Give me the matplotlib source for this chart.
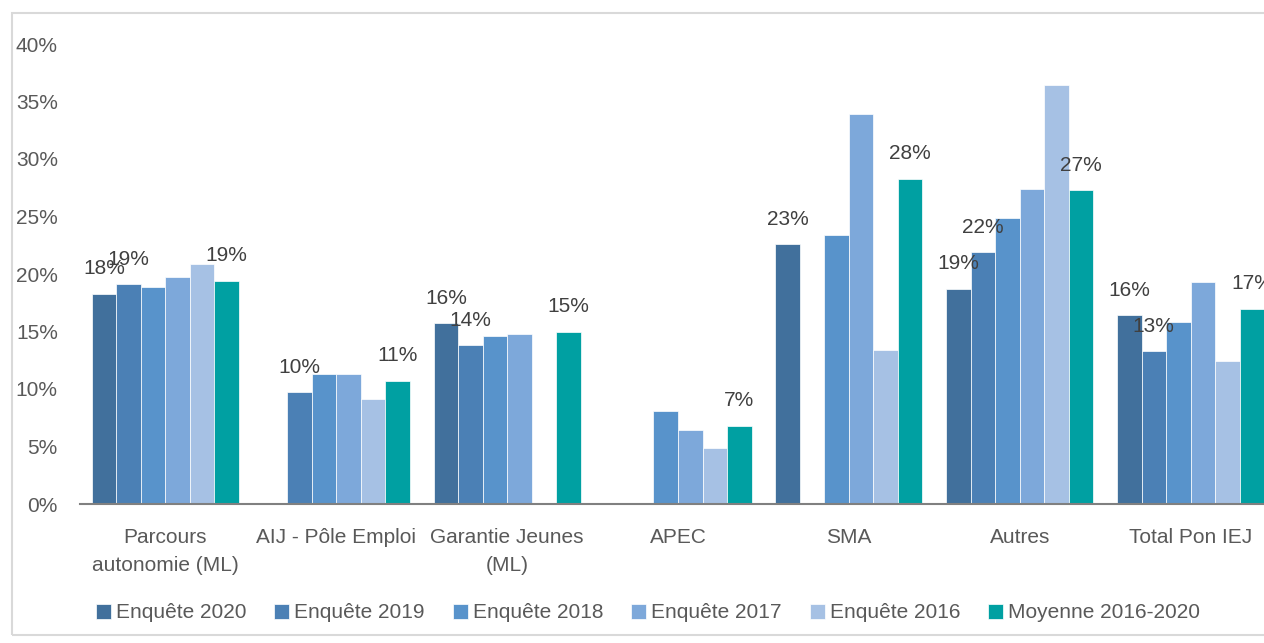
import numpy as np
import matplotlib
matplotlib.use('Agg')
import matplotlib.pyplot as plt
from matplotlib.patches import Rectangle

plt.rcParams['font.family'] = ['Liberation Sans', 'DejaVu Sans']

# Categories and survey values (%)
categories = ['Parcours\nautonomie (ML)', 'AIJ - Pôle Emploi', 'Garantie Jeunes\n(ML)',
              'APEC', 'SMA', 'Autres', 'Total Pon IEJ']
series_names = ['Enquête 2020', 'Enquête 2019', 'Enquête 2018', 'Enquête 2017',
                'Enquête 2016', 'Moyenne 2016-2020']
enquete_2020 = [18.3, np.nan, 15.7, np.nan, 22.6, 18.7, 16.4]
enquete_2019 = [19.1, 9.7, 13.8, np.nan, np.nan, 21.9, 13.3]
enquete_2018 = [18.9, 11.3, 14.6, 8.1, 23.4, 24.9, 15.8]
enquete_2017 = [19.7, 11.3, 14.8, 6.4, 33.9, 27.4, 19.3]
enquete_2016 = [20.9, 9.1, np.nan, 4.9, 13.4, 36.4, 12.4]
moyenne = [19.4, 10.7, 15.0, 6.8, 28.3, 27.3, 17.0]
yticks = [0, 5, 10, 15, 20, 25, 30, 35, 40]

all_series = [enquete_2020, enquete_2019, enquete_2018, enquete_2017, enquete_2016, moyenne]
colors = ['#41709C', '#4B80B5', '#5893CB', '#7DA8DA', '#A6C1E4', '#00A0A2']
labelled = [0, 1, 5]  # series with data labels

fig = plt.figure(figsize=(12.64, 6.43), dpi=100)
ax = fig.add_axes([80 / 1264, 139 / 643, 1196 / 1264, 460 / 643])

x = np.arange(len(categories))
w = 0.1435
for k, (vals, col, name) in enumerate(zip(all_series, colors, series_names)):
    vals = np.array(vals, dtype=float)
    pos = x + (k - 2.5) * w
    ok = ~np.isnan(vals)
    ax.bar(pos[ok], vals[ok], width=w, color=col, edgecolor='white', linewidth=0.5, label=name)
    if k in labelled:
        for px, v in zip(pos[ok], vals[ok]):
            ax.annotate(f'{int(round(v))}%', (px, v), xytext=(0, 18), textcoords='offset points',
                        ha='center', va='center', fontsize=15, color='#404040')

ax.set_xlim(-0.5, len(categories) - 0.5)
ax.set_ylim(0, 40)
ax.set_yticks(yticks)
ax.set_yticklabels([f'{t}%' for t in yticks])
ax.set_xticks(x)
ax.set_xticklabels(categories, linespacing=1.65)
ax.tick_params(axis='y', length=0, pad=16, labelsize=15, labelcolor='#595959')
ax.tick_params(axis='x', length=0, pad=17, labelsize=15, labelcolor='#595959')
for s in ['top', 'right', 'left']:
    ax.spines[s].set_visible(False)
ax.spines['bottom'].set_color('#808080')
ax.spines['bottom'].set_linewidth(1.5)

# light chart frame
fig.patches.append(Rectangle((12 / 1264, 8 / 643), 1.1, 622 / 643, transform=fig.transFigure,
                             fill=False, edgecolor='#D9D9D9', linewidth=1.5))

handles, labels = ax.get_legend_handles_labels()
fig.legend(handles, labels, loc='center', bbox_to_anchor=(648 / 1264, 1 - 613 / 643), ncol=6,
           frameon=False, fontsize=15, labelcolor='#595959', handlelength=0.72, handleheight=0.72,
           handletextpad=0.25, columnspacing=1.33)

plt.savefig('out.png', dpi=100)
